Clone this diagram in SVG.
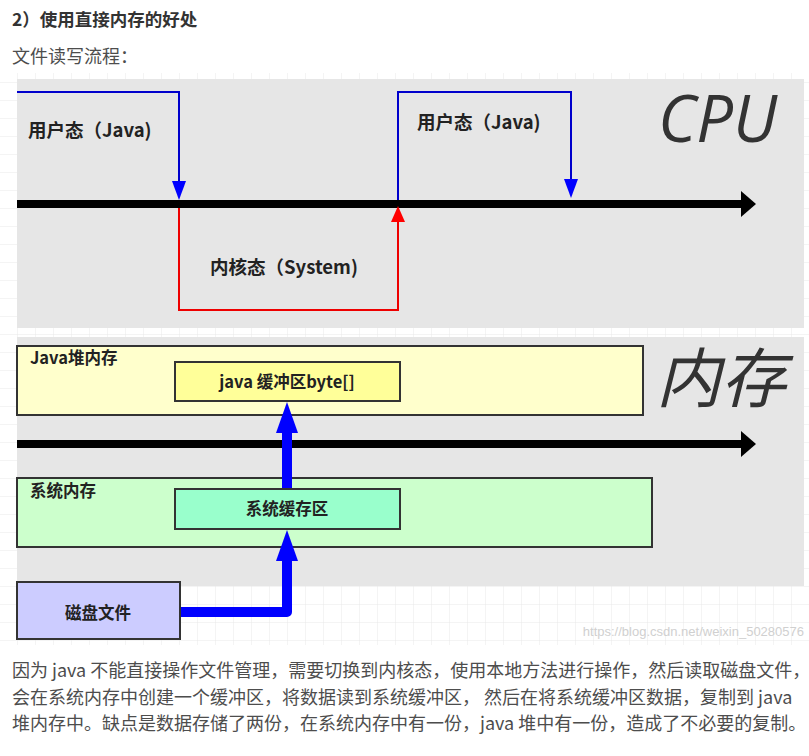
<svg xmlns="http://www.w3.org/2000/svg" width="809" height="756" viewBox="0 0 809 756">
<defs>
<style>
.title{font-family:"Noto Sans CJK SC","Liberation Sans",sans-serif;font-weight:bold;font-size:17.5px;fill:#333}
.para{font-family:"Noto Sans CJK SC","Liberation Sans",sans-serif;font-size:18px;fill:#4d4d4d}
.lbl{font-family:"Noto Sans CJK SC","Liberation Sans",sans-serif;font-weight:bold;font-size:18.5px;fill:#222}
.small{font-family:"Noto Sans CJK SC","Liberation Sans",sans-serif;font-weight:bold;font-size:16.5px;fill:#222}
.big{font-family:"Open Sans","Noto Sans CJK SC",sans-serif;font-style:italic;font-size:65px;fill:#333}
.panel{fill:#e6e6e6}
.box{stroke:#333;stroke-width:2}
.thin{fill:none;stroke-width:2}
.axis{stroke:#000;stroke-width:8;fill:none}
.thick{fill:none;stroke:#0000ff;stroke-width:10;stroke-linejoin:round}
</style>
<pattern id="grid" width="18" height="18" patternUnits="userSpaceOnUse" x="0" y="11">
<path d="M18 0V18M0 18H18" fill="none" stroke="#e8e8e8" stroke-width="1"/>
</pattern>
</defs>
<rect width="809" height="756" fill="#fff"/>
<text class="title" x="12" y="26">2）使用直接内存的好处</text>
<text class="para" x="12" y="63" font-size="17">文件读写流程：</text>
<rect x="0" y="73" width="809" height="572" fill="url(#grid)"/>

<g id="cpu-panel">
<rect class="panel" x="17" y="79" width="787" height="249"/>
<text class="big" x="658" y="142">CPU</text>
</g>

<g id="mem-panel">
<rect class="panel" x="17" y="337" width="787" height="249"/>
<text class="big" x="656" y="402">内存</text>
</g>

<g id="user-1"><text class="lbl" x="28" y="137">用户态（Java)</text></g>
<g id="user-2"><text class="lbl" x="417" y="129">用户态（Java)</text></g>
<g id="kernel"><text class="lbl" x="210" y="274">内核态（System)</text></g>

<g id="java-heap">
<rect class="box" x="17" y="346" width="626" height="69" fill="#ffffcc"/>
<text class="small" x="30" y="364">Java堆内存</text>
</g>
<g id="java-buffer">
<rect class="box" x="175" y="362" width="225" height="39" fill="#ffff99"/>
<text class="small" x="287" y="388" text-anchor="middle">java 缓冲区byte[]</text>
</g>
<g id="sys-mem">
<rect class="box" x="17" y="478" width="635" height="69" fill="#ccffcc"/>
<text class="small" x="30" y="497">系统内存</text>
</g>
<g id="sys-buffer">
<rect class="box" x="175" y="489" width="225" height="40" fill="#99ffcc"/>
<text class="small" x="287" y="515" text-anchor="middle">系统缓存区</text>
</g>
<g id="disk">
<rect class="box" x="17" y="582" width="163" height="57" fill="#ccccff"/>
<text class="small" x="98" y="619" text-anchor="middle">磁盘文件</text>
</g>

<g id="connectors">
<path class="axis" d="M17 204H742"/>
<path d="M741 191L756 204L741 217Z" fill="#000"/>
<path class="thin" stroke="#0000cc" d="M17 92H179V186"/>
<path d="M172 181L186 181L179 200Z" fill="#0000ff"/>
<path class="thin" stroke="#ee0000" d="M179 208V310H398V222"/>
<path d="M391 222L405 222L398 206Z" fill="#ff0000"/>
<path class="thin" stroke="#0000cc" d="M398 200V92H571V184"/>
<path d="M564 179L578 179L571 198Z" fill="#0000ff"/>

<path class="axis" d="M17 444H742"/>
<path d="M741 431L756 444L741 457Z" fill="#000"/>
<path class="thick" d="M181 612H287V555"/>
<path d="M276 561L298 561L287 530Z" fill="#0000ff"/>
<path class="thick" d="M287 488V425"/>
<path d="M276 433L298 433L287 402Z" fill="#0000ff"/>
</g>

<text x="804" y="636" text-anchor="end" font-family="Liberation Sans,sans-serif" font-size="13" fill="#d0d0d0">https://blog.csdn.net/weixin_50280576</text>

<text class="para" x="12" y="677">因为 java 不能直接操作文件管理，需要切换到内核态，使用本地方法进行操作，然后读取磁盘文件，</text>
<text class="para" x="12" y="704">会在系统内存中创建一个缓冲区，将数据读到系统缓冲区， 然后在将系统缓冲区数据，复制到 java</text>
<text class="para" x="12" y="730">堆内存中。缺点是数据存储了两份，在系统内存中有一份，java 堆中有一份，造成了不必要的复制。</text>
</svg>
